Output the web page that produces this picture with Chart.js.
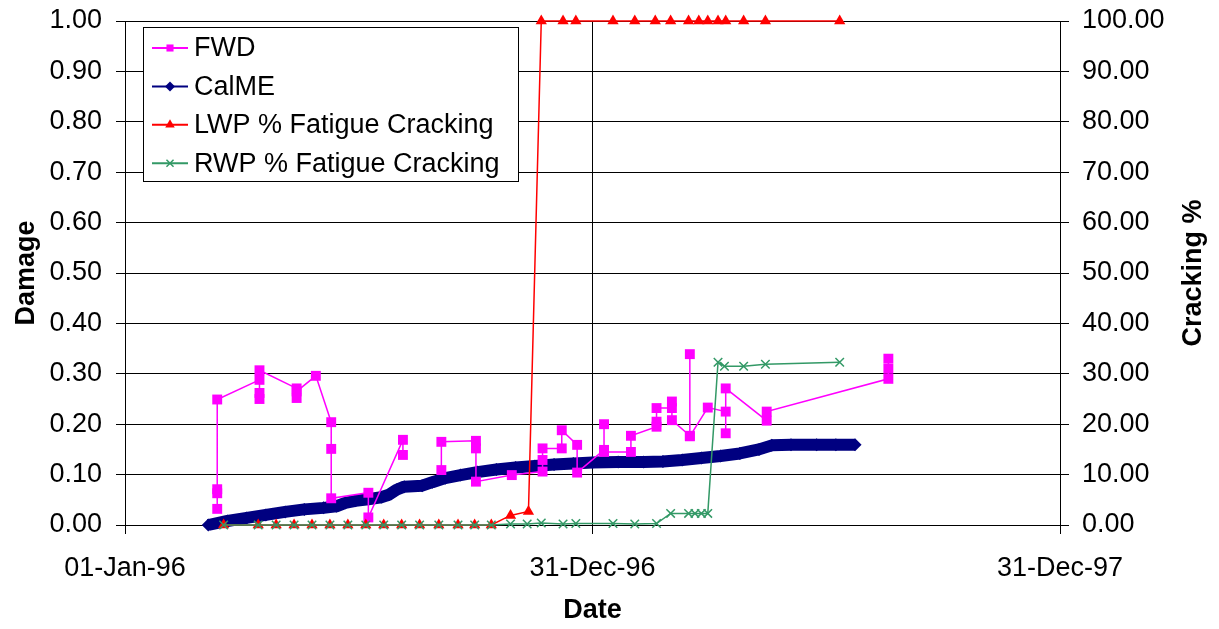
<!DOCTYPE html>
<html lang="en">
<head>
    <meta charset="UTF-8">
    <title>Damage and Cracking vs Date</title>
    <script src="https://cdn.jsdelivr.net/npm/chart.js"></script>
    <style>
        body { margin: 0; background: #fff; }
    </style>
</head>
<body>
    <canvas id="damageChart" width="1219" height="629"></canvas>

    <script>
    // x values are days since 01-Jan-96
    const xTickDays = [0, 365, 730];
    const xTickLabels = ['01-Jan-96', '31-Dec-96', '31-Dec-97'];

    // FWD damage (several readings per test date, null = break in the line)
    const fwdDays = [72, 72, 72, 72, 105, 105, 105, 105, 134, 134, 134, 149, 161, 161, 161,
        190, 190, 217, 217, 232, 247, 247, 274, 274, 274, 302, 326, 326, 326, 341, 341,
        353, 353, 374, 374, 374, 395, 395, 415, 415, 415, 427, 427, 427, 441, 441, 441,
        455, 469, 469, 469, 501, 501, 596, 596, 596];
    const fwdDamage = [0.032, 0.063, 0.071, 0.249, 0.288, 0.262, 0.250, 0.307, 0.271, 0.252, 0.265, 0.296, 0.204, 0.151, 0.053,
        0.064, 0.015, 0.169, 0.139, null, 0.109, 0.165, 0.167, 0.152, 0.086, 0.099, 0.106, 0.129, 0.152, 0.152, 0.188,
        0.159, 0.104, 0.149, 0.200, 0.145, 0.145, 0.177, 0.195, 0.205, 0.232, 0.232, 0.245, 0.208, 0.177, 0.339, 0.176,
        0.233, 0.225, 0.182, 0.271, 0.207, 0.225, 0.290, 0.310, 0.330];

    // CalME damage
    const calmeDays = [65, 80, 95, 110, 125, 140, 155, 165, 172, 180, 190, 200, 206, 212, 218, 232, 240, 250,
        262, 275, 290, 305, 320, 335, 350, 365, 385, 405, 420, 435, 450, 465, 480, 495, 505, 520, 540, 555, 570];
    const calmeDamage = [0.000, 0.008, 0.014, 0.020, 0.026, 0.031, 0.034, 0.037, 0.044, 0.048, 0.051, 0.055, 0.060,
        0.070, 0.076, 0.078, 0.085, 0.093, 0.099, 0.105, 0.110, 0.114, 0.117, 0.120, 0.122, 0.124, 0.125, 0.125,
        0.126, 0.129, 0.133, 0.137, 0.142, 0.150, 0.158, 0.159, 0.159, 0.159, 0.159];

    // cracking % (right axis)
    const lwpDays = [77, 104, 118, 132, 146, 160, 174, 188, 202, 216, 230, 245, 260, 273, 286, 301, 315,
        325, 342, 352, 381, 398, 414, 426, 440, 448, 455, 463, 469, 483, 500, 558];
    const lwpCracking = [0, 0, 0, 0, 0, 0, 0, 0, 0, 0, 0, 0, 0, 0, 0, 1.9, 2.7,
        100, 100, 100, 100, 100, 100, 100, 100, 100, 100, 100, 100, 100, 100, 100];
    const rwpDays = [77, 104, 118, 132, 146, 160, 174, 188, 202, 216, 230, 245, 260, 273, 286, 301, 314,
        325, 342, 352, 381, 398, 415, 426, 440, 445, 450, 455, 463, 468, 483, 500, 558];
    const rwpCracking = [0, 0, 0, 0, 0, 0, 0, 0, 0, 0, 0, 0, 0, 0, 0, 0.2, 0.2,
        0.4, 0.2, 0.3, 0.3, 0.2, 0.3, 2.3, 2.3, 2.3, 2.3, 2.3, 32.3, 31.5, 31.5, 31.9, 32.3];

    const FONT = '"Liberation Sans", Arial, sans-serif';
    const toPoints = (xs, ys) => xs.map((x, i) => ({ x: x, y: ys[i] }));

    // Excel style legend box + right axis title (reads bottom to top)
    const legendRows = [0, 1, 2, 3];
    const boxLegend = {
        id: 'boxLegend',
        afterDraw(chart) {
            const ctx = chart.ctx;
            ctx.save();
            ctx.fillStyle = '#fff';
            ctx.fillRect(143.5, 27.5, 375, 154);
            ctx.strokeStyle = '#000';
            ctx.lineWidth = 1;
            ctx.strokeRect(143.5, 27.5, 375, 154);
            ctx.font = '27px ' + FONT;
            ctx.textBaseline = 'middle';
            legendRows.forEach((idx, row) => {
                const ds = chart.data.datasets[idx];
                const y = 48 + row * 38.4;
                ctx.strokeStyle = ds.borderColor;
                ctx.fillStyle = ds.borderColor;
                ctx.lineWidth = 2;
                ctx.beginPath();
                ctx.moveTo(152, y);
                ctx.lineTo(188, y);
                ctx.stroke();
                ctx.lineWidth = 1.5;
                Chart.helpers.drawPoint(ctx, {
                    pointStyle: ds.pointStyle, rotation: 0,
                    radius: ds.pointStyle === 'triangle' ? 5.5 : 5, borderWidth: ds.pointStyle === 'crossRot' ? 1.5 : 0
                }, 170, y);
                ctx.fillStyle = '#000';
                ctx.textAlign = 'left';
                ctx.fillText(ds.label, 194, y + 1);
            });
            ctx.translate(1194, (chart.chartArea.top + chart.chartArea.bottom) / 2);
            ctx.rotate(-Math.PI / 2);
            ctx.font = 'bold 27px ' + FONT;
            ctx.textAlign = 'center';
            ctx.fillStyle = '#000';
            ctx.fillText('Cracking %', 0, 0);
            ctx.restore();
        }
    };

    new Chart(document.getElementById('damageChart'), {
        type: 'line',
        data: {
            datasets: [{
                label: 'FWD',
                data: toPoints(fwdDays, fwdDamage),
                yAxisID: 'y',
                order: 2,
                borderColor: '#FF00FF',
                backgroundColor: '#FF00FF',
                borderWidth: 1.5,
                pointStyle: 'rect',
                pointRadius: 7,
                pointBorderWidth: 0,
                clip: false
            }, {
                label: 'CalME',
                data: toPoints(calmeDays, calmeDamage),
                yAxisID: 'y',
                order: 3,
                borderColor: '#000080',
                backgroundColor: '#000080',
                borderWidth: 12,
                borderJoinStyle: 'round',
                pointStyle: 'rectRot',
                pointRadius: 6.5,
                pointBorderWidth: 0,
                clip: false
            }, {
                label: 'LWP % Fatigue Cracking',
                data: toPoints(lwpDays, lwpCracking),
                yAxisID: 'y1',
                order: 1,
                borderColor: '#FF0000',
                backgroundColor: '#FF0000',
                borderWidth: 1.5,
                pointStyle: 'triangle',
                pointRadius: 6.5,
                pointBorderWidth: 0,
                clip: false
            }, {
                label: 'RWP % Fatigue Cracking',
                data: toPoints(rwpDays, rwpCracking),
                yAxisID: 'y1',
                order: 0,
                borderColor: '#339966',
                backgroundColor: '#339966',
                borderWidth: 1.5,
                pointStyle: 'crossRot',
                pointRadius: 6,
                pointBorderWidth: 1.5,
                clip: false
            }]
        },
        options: {
            responsive: false,
            animation: false,
            events: [],
            layout: { padding: { top: 21, left: 0, right: 0, bottom: 0 } },
            plugins: { legend: { display: false }, tooltip: { enabled: false } },
            scales: {
                x: {
                    type: 'linear',
                    min: 0,
                    max: 730,
                    afterFit: (s) => { s.height = 104; },
                    afterBuildTicks: (s) => { s.ticks = xTickDays.map(v => ({ value: v })); },
                    ticks: {
                        callback: (v) => xTickLabels[xTickDays.indexOf(v)],
                        font: { family: FONT, size: 27 },
                        color: '#000',
                        padding: 18,
                        maxRotation: 0,
                        autoSkip: false
                    },
                    grid: { color: '#000', lineWidth: 1, tickLength: 9 },
                    border: { color: '#000' },
                    title: {
                        display: true, text: 'Date', color: '#000',
                        font: { family: FONT, size: 27, weight: 'bold' },
                        padding: { top: 0, bottom: 2 }
                    }
                },
                y: {
                    position: 'left',
                    min: 0,
                    max: 1,
                    afterFit: (s) => { s.width = 125; },
                    ticks: {
                        stepSize: 0.1,
                        callback: (v) => v.toFixed(2),
                        font: { family: FONT, size: 27, lineHeight: 0.5 },
                        color: '#000',
                        padding: 14
                    },
                    grid: { color: '#000', lineWidth: 1, tickLength: 9 },
                    border: { color: '#000' },
                    title: {
                        display: true, text: 'Damage', color: '#000',
                        font: { family: FONT, size: 27, weight: 'bold' },
                        padding: { top: 10, bottom: 0 }
                    }
                },
                y1: {
                    position: 'right',
                    min: 0,
                    max: 100,
                    afterFit: (s) => { s.width = 159; },
                    ticks: {
                        stepSize: 10,
                        callback: (v) => v.toFixed(2),
                        font: { family: FONT, size: 27, lineHeight: 0.5 },
                        color: '#000',
                        padding: 13
                    },
                    grid: { drawOnChartArea: false, color: '#000', tickLength: 9 },
                    border: { color: '#000' }
                }
            }
        },
        plugins: [boxLegend]
    });
    </script>
</body>
</html>
